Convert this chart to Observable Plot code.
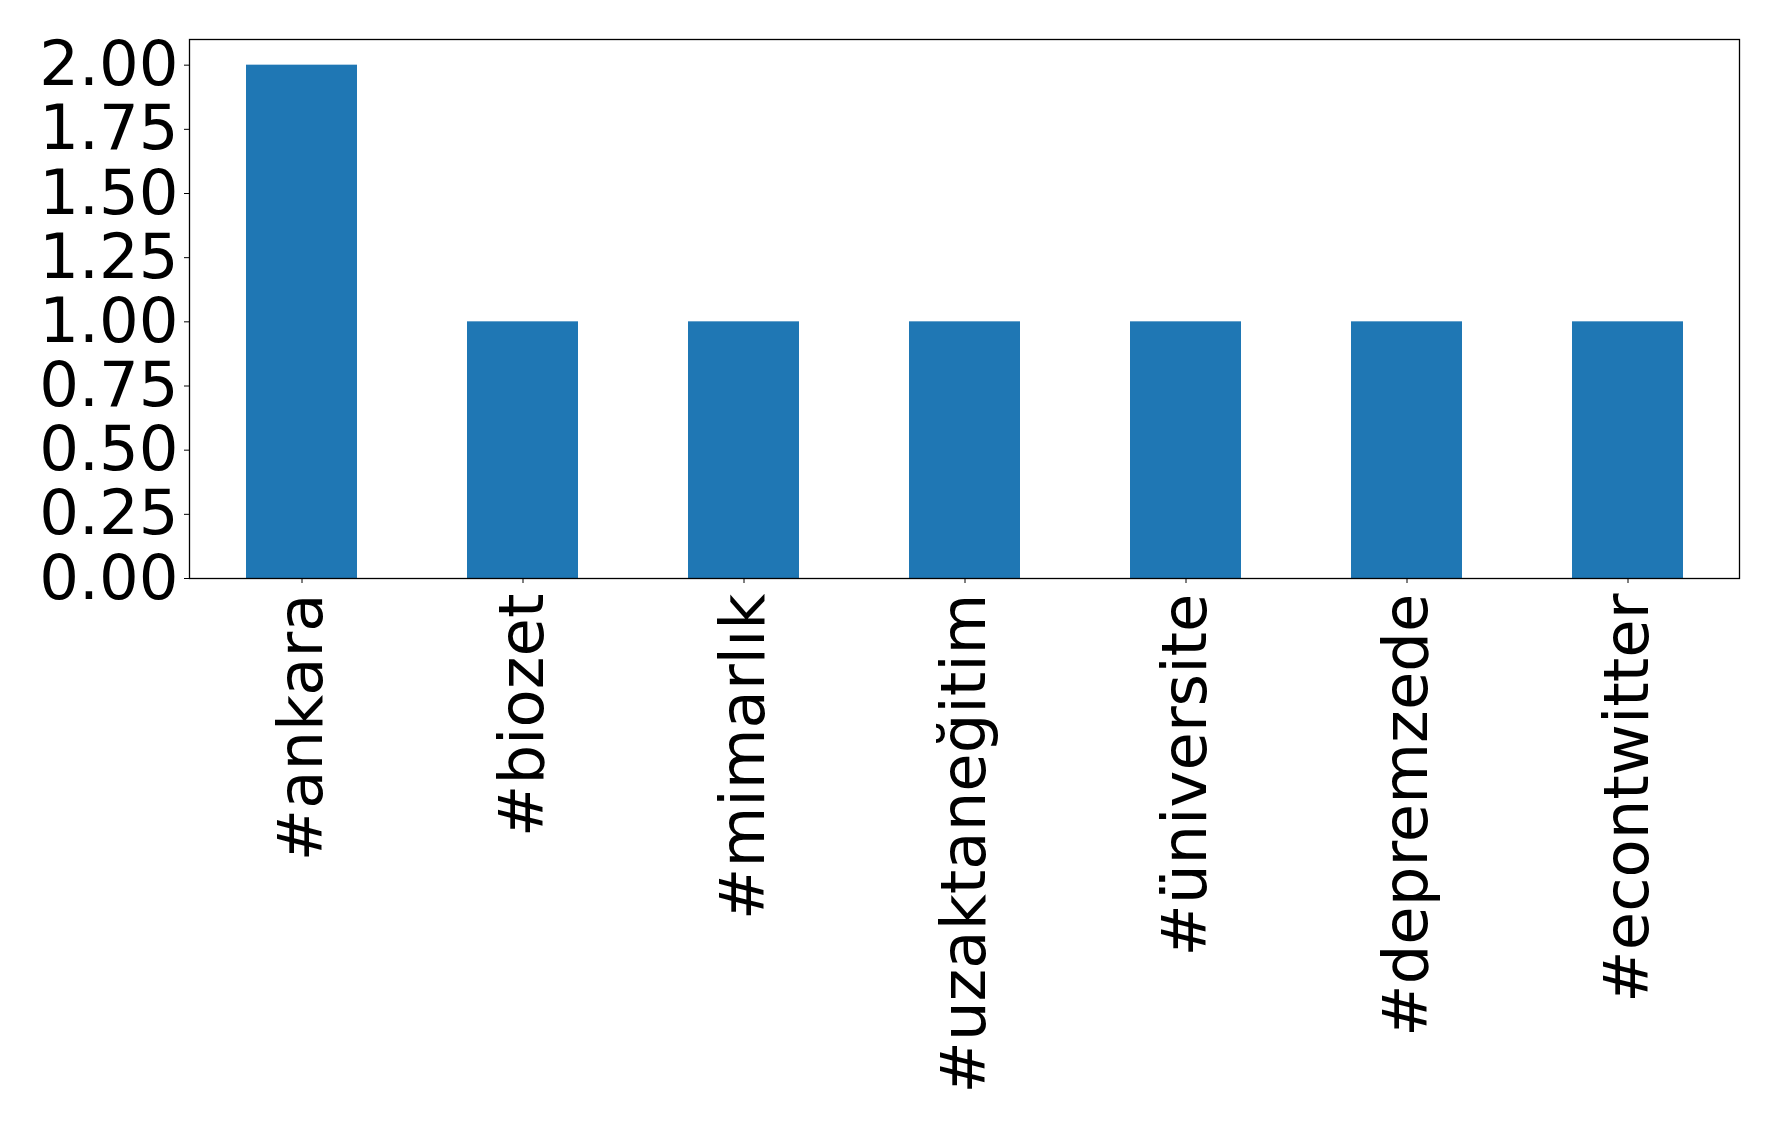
<!DOCTYPE html>
<html>
<head>
<meta charset="utf-8">
<script src="https://cdn.jsdelivr.net/npm/d3@7"></script>
<script src="https://cdn.jsdelivr.net/npm/@observablehq/plot@0.6"></script>
<style>
  html, body { margin: 0; padding: 0; background: #fff; }
  svg { display: block; }
</style>
</head>
<body>
<div id="chart"></div>
<script>
const categories = ["#ankara", "#biozet", "#mimarlık", "#uzaktaneğitim", "#üniversite", "#depremzede", "#econtwitter"];
const counts = [2, 1, 1, 1, 1, 1, 1];
const yTicks = [0, 0.25, 0.5, 0.75, 1.0, 1.25, 1.5, 1.75, 2.0];

const data = categories.map((c, i) => ({tag: c, count: counts[i]}));

const chart = Plot.plot({
  width: 1778,
  height: 1127,
  marginLeft: 189,
  marginRight: 39,
  marginTop: 39,
  marginBottom: 549,
  style: {fontFamily: "DejaVu Sans", fontSize: "62.5px", color: "#000", background: "#fff"},
  x: {domain: categories, paddingInner: 0.5, paddingOuter: 0.25, align: 0.5, label: null},
  y: {domain: [0, 2.1], label: null},
  marks: [
    Plot.barY(data, {x: "tag", y: "count", fill: "#1f77b4"}),
    Plot.frame({stroke: "#000", strokeWidth: 1.3}),
    Plot.axisY({ticks: yTicks, tickFormat: d3.format(".2f"), tickSize: 5, tickPadding: 6, fontSize: 62.5, label: null}),
    Plot.axisX({tickSize: 5, tickPadding: 10, tickRotate: -90, fontSize: 62.5, label: null})
  ]
});
document.getElementById("chart").appendChild(chart);
</script>
</body>
</html>
